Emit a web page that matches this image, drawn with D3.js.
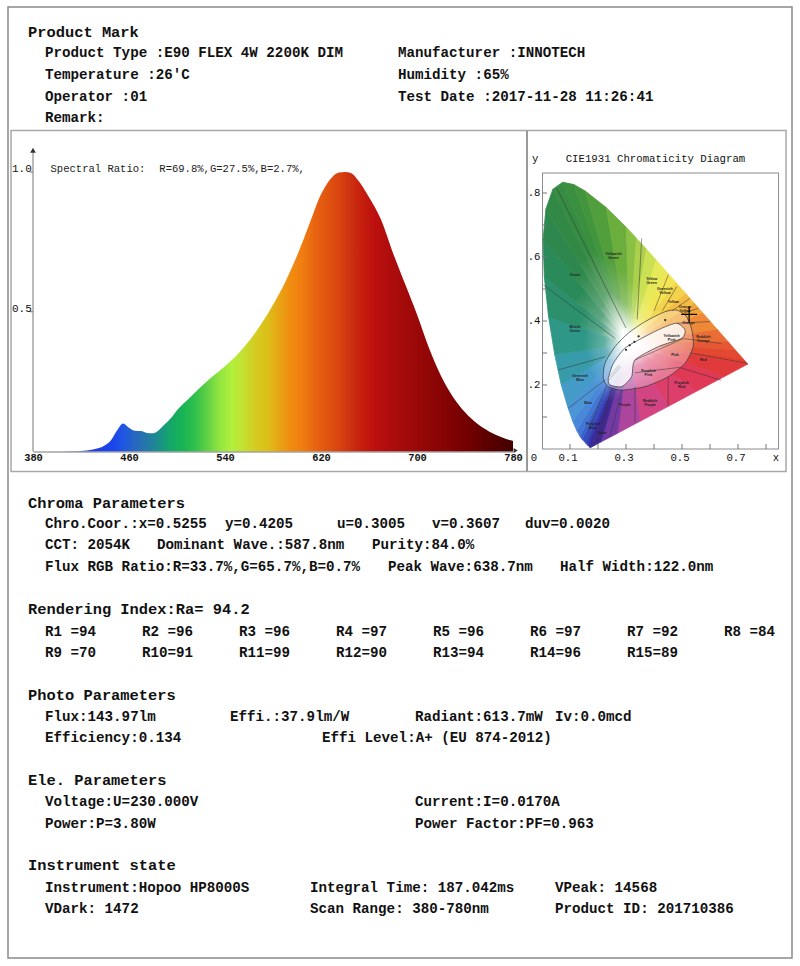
<!DOCTYPE html>
<html><head><meta charset="utf-8">
<script src="https://cdn.jsdelivr.net/npm/d3@7"></script>
<style>body{margin:0;background:#fff} svg{display:block}</style>
</head><body><svg id="c" width="800" height="966"></svg>
<script>
// ---------------- DATA ----------------
const wavelengths = [380,390,400,410,420,430,440,445,450,455,460,465,470,475,480,485,490,495,500,510,520,530,540,550,560,570,580,590,600,610,620,630,635,640,645,650,660,670,680,690,700,710,720,730,740,750,760,770,778,780];
const intensity   = [0,0,0,0.001,0.002,0.007,0.022,0.04,0.075,0.1,0.085,0.074,0.073,0.066,0.065,0.077,0.098,0.12,0.148,0.19,0.232,0.27,0.305,0.345,0.395,0.455,0.525,0.605,0.70,0.81,0.92,0.985,0.998,1.0,0.996,0.975,0.91,0.83,0.71,0.60,0.49,0.37,0.27,0.195,0.14,0.10,0.072,0.052,0.04,0.038];
const xTickValues = [380,460,540,620,700,780];
const yTickValues = [0.5,1.0];
const spectralRatio = "R=69.8%,G=27.5%,B=2.7%,";
const spectrumColorWl = [380,420,445,455,465,475,485,495,505,515,525,535,545,555,565,575,585,595,605,615,625,635,645,655,665,680,700,720,740,760,780];
const spectrumColorHex = ['#3a2aa0','#2238e0','#1a44ec','#1f55e4','#2868c0','#2478a8','#1a9088','#14a868','#18b454','#30c04c','#60d044','#90e440','#b0f03c','#c4e032','#d4cc22','#dcc018','#e8a414','#f08c10','#f07c10','#e86410','#e05410','#d84410','#cc3010','#c41c0e','#bc100e','#ac0c0c','#9a0808','#880404','#760000','#5a0000','#420000'];

// CIE 1931 spectral locus
const locusWl = [380,420,440,450,460,465,470,475,480,485,490,495,500,505,510,515,520,525,530,540,550,555,560,565,570,575,580,585,590,600,610,620,640,700];
const locusX = [0.1741,0.1714,0.1644,0.1566,0.1440,0.1355,0.1241,0.1096,0.0913,0.0687,0.0454,0.0235,0.0082,0.0039,0.0139,0.0389,0.0743,0.1142,0.1547,0.2296,0.3016,0.3373,0.3731,0.4087,0.4441,0.4788,0.5125,0.5448,0.5752,0.6270,0.6658,0.6915,0.7190,0.7347];
const locusY = [0.0050,0.0051,0.0109,0.0177,0.0297,0.0399,0.0578,0.0868,0.1327,0.2007,0.2950,0.4127,0.5384,0.6548,0.7502,0.8120,0.8338,0.8262,0.8059,0.7543,0.6923,0.6589,0.6245,0.5896,0.5547,0.5202,0.4866,0.4544,0.4242,0.3725,0.3340,0.3083,0.2809,0.2653];
const locusColor = ['#2a2080','#302698','#3430a8','#3642b6','#3a58c4','#3e6ccf','#4680d6','#4c90da','#4a9ad4','#3e9cbc','#329a98','#2c9476','#2a8c60','#2c8852','#308848','#348a44','#388e40','#3e923e','#46983c','#5ca43c','#7cb840','#98c848','#bcd850','#dce858','#f0ec58','#f4de50','#f4c848','#f4b040','#f09838','#ec7a38','#e86034','#e44e32','#e24430','#e03c2e'];
const purpleX = [0.65,0.55,0.45,0.35,0.27,0.21];
const purpleY = [0.226,0.1795,0.133,0.0867,0.0495,0.0217];
const purpleColor = ['#e0384a','#de3a60','#dc4274','#c84890','#9442a8','#5432a0'];
const whitePoint = [0.3127,0.329];
const cieXTicks = [0.1,0.3,0.5,0.7];
const cieYTicks = [0.2,0.4,0.6,0.8];
const measured = [0.5255,0.4205];
const kellyOuter = [[0.219,0.221],[0.225,0.268],[0.261,0.320],[0.308,0.362],[0.368,0.398],[0.439,0.429],[0.481,0.434],[0.515,0.415],[0.535,0.372],[0.540,0.320],[0.511,0.268],[0.451,0.226],[0.368,0.195],[0.285,0.184],[0.237,0.195]];
const kellyInner = [[0.237,0.221],[0.255,0.268],[0.296,0.315],[0.356,0.346],[0.427,0.377],[0.481,0.393],[0.511,0.372],[0.499,0.346],[0.416,0.320],[0.332,0.278],[0.320,0.226],[0.285,0.195],[0.243,0.200]];
const kellyLines = [
  [0.053,0.814,0.300,0.378],[0.005,0.5125,0.262,0.345],[0.356,0.658,0.340,0.405],[0.451,0.544,0.400,0.431],
  [0.481,0.507,0.430,0.432],[0.529,0.471,0.465,0.432],[0.558,0.440,0.505,0.424],[0.600,0.398,0.481,0.393],
  [0.505,0.345,0.640,0.330],[0.530,0.300,0.731,0.268],[0.490,0.255,0.640,0.215],[0.451,0.226,0.450,0.135],
  [0.332,0.195,0.332,0.082],[0.285,0.184,0.243,0.038],[0.249,0.190,0.195,0.018],[0.231,0.197,0.165,0.060],
  [0.225,0.216,0.094,0.127],[0.225,0.288,0.058,0.247],[0.332,0.278,0.505,0.345],[0.332,0.238,0.490,0.255]
];
const kellyLabels = [
  ["Green",0.118,0.544],["Yellowish|Green",0.255,0.601],["Yellow|Green",0.392,0.523],["Greenish|Yellow",0.439,0.492],
  ["Yellow",0.469,0.46],["Orange|Yellow",0.511,0.436],["Orange",0.523,0.393],["Bluish|Green",0.118,0.372],
  ["Yellowish|Pink",0.463,0.346],["Reddish|Orange",0.576,0.343],["Pink",0.475,0.294],["Red",0.576,0.278],
  ["Greenish|Blue",0.136,0.221],["Purplish|Pink",0.38,0.237],["Purplish|Red",0.499,0.2],["Blue",0.165,0.143],
  ["Purple",0.296,0.1375],["Reddish|Purple",0.386,0.143],["Purplish|Blue",0.183,0.07],["Violet",0.213,0.05]
];
const planckDots = [[0.300,0.310],[0.313,0.324],[0.330,0.335],[0.345,0.352],[0.440,0.403]];

// report text
const header = {product:"Product Type :E90 FLEX 4W 2200K DIM", manu:"Manufacturer :INNOTECH", temp:"Temperature :26'C", hum:"Humidity :65%", op:"Operator :01", date:"Test Date :2017-11-28 11:26:41", remark:"Remark:"};
const chromaTexts = [["Chro.Coor.:x=0.5255","y=0.4205","u=0.3005","v=0.3607","duv=0.0020"],["CCT: 2054K","Dominant Wave.:587.8nm","Purity:84.0%"],["Flux RGB Ratio:R=33.7%,G=65.7%,B=0.7%","Peak Wave:638.7nm","Half Width:122.0nm"]];
const raValue = "94.2";
const rValues = [94,96,96,97,96,97,92,84,70,91,99,90,94,96,89];
const photoTexts = [["Flux:143.97lm","Effi.:37.9lm/W","Radiant:613.7mW","Iv:0.0mcd"],["Efficiency:0.134","Effi Level:A+ (EU 874-2012)"]];
const eleTexts = [["Voltage:U=230.000V","Current:I=0.0170A"],["Power:P=3.80W","Power Factor:PF=0.963"]];
const instTexts = [["Instrument:Hopoo HP8000S","Integral Time: 187.042ms","VPeak: 14568"],["VDark: 1472","Scan Range: 380-780nm","Product ID: 201710386"]];

// ---------------- DRAW ----------------
const svg = d3.select('#c');
const FONT = '"Liberation Mono","Courier New",monospace';
function txt(g,x,y,s,o={}){
  return g.append('text').attr('x',x).attr('y',y).attr('dominant-baseline','central')
    .attr('font-family',FONT).attr('font-size',o.size||14.2).attr('font-weight',o.weight||'bold')
    .attr('fill',o.fill||'#111').attr('text-anchor',o.anchor||'start').style('white-space','pre').text(s);
}
const defs = svg.append('defs');

// frames
svg.append('rect').attr('x',8).attr('y',7).attr('width',784).attr('height',951).attr('fill','none').attr('stroke','#8a8a8a').attr('stroke-width',1.5);
svg.append('rect').attr('x',11).attr('y',130.5).attr('width',775).attr('height',341).attr('fill','none').attr('stroke','#a8a8a8').attr('stroke-width',1.5);
svg.append('line').attr('x1',527).attr('x2',527).attr('y1',131).attr('y2',471).attr('stroke','#555').attr('stroke-width',1.2);

// header
const hg = svg.append('g');
txt(hg,28,33,"Product Mark",{size:15.4});
txt(hg,45,53,header.product); txt(hg,398,53,header.manu);
txt(hg,45,75,header.temp); txt(hg,398,75,header.hum);
txt(hg,45,96.5,header.op); txt(hg,398,96.5,header.date);
txt(hg,45,117.5,header.remark);

// ---- spectrum ----
const x = d3.scaleLinear().domain([380,780]).range([33,513]);
const y = d3.scaleLinear().domain([0,1]).range([451.5,172]);
const sg = svg.append('g');
const grad = defs.append('linearGradient').attr('id','specGrad').attr('gradientUnits','userSpaceOnUse')
  .attr('x1',x(380)).attr('x2',x(780)).attr('y1',0).attr('y2',0);
spectrumColorWl.forEach((w,i)=>grad.append('stop').attr('offset',(x(w)-x(380))/(x(780)-x(380))).attr('stop-color',spectrumColorHex[i]));
const specData = wavelengths.map((w,i)=>({w,v:intensity[i]}));
sg.append('path').datum(specData)
  .attr('d',d3.area().x(d=>x(d.w)).y0(y(0)).y1(d=>y(d.v)).curve(d3.curveMonotoneX))
  .attr('fill','url(#specGrad)');
// axes
const xAxis = sg.append('g').attr('transform',`translate(0,${y(0)})`)
  .call(d3.axisBottom(x).tickValues(xTickValues).tickSize(0).tickSizeOuter(0).tickPadding(2));
xAxis.select('.domain').attr('stroke','#777').attr('stroke-width',1.2);
xAxis.selectAll('text').attr('font-family',FONT).attr('font-size',10.4).attr('font-weight','bold').attr('fill','#111');
sg.append('line').attr('x1',x(380)).attr('x2',x(380)).attr('y1',y(0)).attr('y2',y(1.07)).attr('stroke','#777').attr('stroke-width',1);
sg.append('path').attr('d',d3.symbol(d3.symbolTriangle,14)()).attr('transform',`translate(${x(380)},${y(1.075)})`).attr('fill','#333');
sg.append('path').attr('d',d3.symbol(d3.symbolTriangle,10)()).attr('transform',`translate(${x(780)+2},${y(0)-1}) rotate(90)`).attr('fill','#333');
yTickValues.forEach(v=>{
  sg.append('line').attr('x1',x(380)-3).attr('x2',x(380)).attr('y1',y(v)).attr('y2',y(v)).attr('stroke','#777');
  txt(sg,12,y(v)-3,d3.format('.1f')(v),{size:11,weight:'normal'});
});
txt(sg,50.5,169,"Spectral Ratio:",{size:10.55,weight:'normal',fill:'#222'});
txt(sg,159.3,169,spectralRatio,{size:10.55,weight:'normal',fill:'#222'});

// ---- CIE ----
const cx = d3.scaleLinear().domain([0,1]).range([542,822]);
const cy = d3.scaleLinear().domain([0,1]).range([449,129]);
const cg = svg.append('g');
txt(cg,532,158.5,"y",{size:10.7,weight:'normal'});
txt(cg,565.7,158.5,"CIE1931 Chromaticity Diagram",{size:10.7,weight:'normal'});
cg.append('rect').attr('x',cx(0)+0.5).attr('y',cy(0.8625)).attr('width',cx(0.843)-cx(0)).attr('height',cy(0)-cy(0.8625))
  .attr('fill','#fff').attr('stroke','#8c8c8c').attr('stroke-width',1);
// fan of gradient triangles
const ring = locusX.map((lx,i)=>({x:lx,y:locusY[i],c:locusColor[i]}))
  .concat(purpleX.map((px,i)=>({x:px,y:purpleY[i],c:purpleColor[i]})));
const wpx = cx(whitePoint[0]), wpy = cy(whitePoint[1]);
const fan = cg.append('g');
ring.forEach((p,i)=>{
  const q = ring[(i+1)%ring.length];
  const col = d3.interpolateRgb(p.c,q.c)(0.5);
  const mx = (cx(p.x)+cx(q.x))/2, my = (cy(p.y)+cy(q.y))/2;
  const gd = defs.append('linearGradient').attr('id','cg'+i).attr('gradientUnits','userSpaceOnUse')
    .attr('x1',wpx).attr('y1',wpy).attr('x2',mx).attr('y2',my);
  [[0,'#ffffff'],[0.08,'#ffffff'],[0.32,d3.interpolateRgb('#ffffff',col)(0.75)],[0.58,col],[1,col]]
    .forEach(s=>gd.append('stop').attr('offset',s[0]).attr('stop-color',s[1]));
  fan.append('path').attr('d',`M${wpx},${wpy}L${cx(p.x)},${cy(p.y)}L${cx(q.x)},${cy(q.y)}Z`)
    .attr('fill',`url(#cg${i})`).attr('stroke',`url(#cg${i})`).attr('stroke-width',0.8).attr('stroke-linejoin','round');
});
// Kelly regions
const kl = d3.line().x(d=>cx(d[0])).y(d=>cy(d[1])).curve(d3.curveCardinalClosed.tension(0.3));
cg.append('path').attr('d',kl(kellyOuter)).attr('fill','#fff').attr('fill-opacity',0.3).attr('stroke','#333').attr('stroke-width',0.7);
cg.append('path').attr('d',kl(kellyInner)).attr('fill','#fff').attr('fill-opacity',0.8).attr('stroke','#333').attr('stroke-width',0.7);
cg.selectAll('line.k').data(kellyLines).join('line').attr('class','k')
  .attr('x1',d=>cx(d[0])).attr('y1',d=>cy(d[1])).attr('x2',d=>cx(d[2])).attr('y2',d=>cy(d[3]))
  .attr('stroke','#333').attr('stroke-width',0.6).attr('stroke-opacity',0.85);
kellyLabels.forEach(([t,lx,ly])=>{
  const parts=t.split('|');
  const te=cg.append('text').attr('x',cx(lx)).attr('y',cy(ly)).attr('font-family','Liberation Sans, Arial, sans-serif')
    .attr('font-size',3.6).attr('font-weight','bold').attr('fill','#222').attr('text-anchor','middle');
  parts.forEach((p,j)=>te.append('tspan').attr('x',cx(lx)).attr('dy',j===0?(parts.length>1?-1.5:1.2):4).text(p));
});
cg.selectAll('circle.pl').data(planckDots).join('circle').attr('class','pl')
  .attr('cx',d=>cx(d[0])).attr('cy',d=>cy(d[1])).attr('r',1.1).attr('fill','#222');
cg.append('line').attr('x1',cx(0.23)).attr('y1',cy(0.215)).attr('x2',cx(0.275)).attr('y2',cy(0.262)).attr('stroke','#999').attr('stroke-width',0.6);
cg.append('line').attr('x1',cx(0.236)).attr('y1',cy(0.212)).attr('x2',cx(0.281)).attr('y2',cy(0.258)).attr('stroke','#999').attr('stroke-width',0.6);
// measured point cross
const mxp=cx(measured[0]), myp=cy(measured[1]);
cg.append('path').attr('d',`M${mxp-8},${myp}H${mxp+8}M${mxp},${myp-8}V${myp+8}`).attr('stroke','#000').attr('stroke-width',1.2);
// ticks
d3.range(1,9).forEach(i=>{
  const v=i/10;
  cg.append('line').attr('x1',cx(v)).attr('x2',cx(v)).attr('y1',cy(0)).attr('y2',cy(0)-5).attr('stroke','#777');
  cg.append('line').attr('x1',cx(0)).attr('x2',cx(0)+5).attr('y1',cy(v)).attr('y2',cy(v)).attr('stroke','#777');
});
cieXTicks.forEach(v=>txt(cg,cx(v)-2,457.5,d3.format('.1f')(v),{size:10.7,weight:'normal',anchor:'middle'}));
cieYTicks.forEach(v=>txt(cg,540.5,cy(v),d3.format('.1f')(v).replace(/^0/,''),{size:10.7,weight:'normal',anchor:'end'}));
txt(cg,534,457.5,"0",{size:10.7,weight:'normal',anchor:'middle'});
txt(cg,776,457.5,"x",{size:10.7,weight:'normal',anchor:'middle'});

// ---- parameter text ----
const pg = svg.append('g');
txt(pg,28,503.5,"Chroma Parameters",{size:15.4});
[[45,225,337,432,525],[45,157,372],[45,388,560]].forEach((cols,r)=>{
  cols.forEach((cxp,c)=>txt(pg,cxp,523.5+r*21.7,chromaTexts[r][c]));
});
txt(pg,28,610,"Rendering Index:Ra= "+raValue,{size:15.4});
rValues.forEach((v,i)=>{
  const n=i+1;
  const label = n<10 ? `R${n} =${v}` : `R${n}=${v}`;
  txt(pg,45+(i%8)*97,631.5+Math.floor(i/8)*21.3,label);
});
txt(pg,28,695.5,"Photo Parameters",{size:15.4});
[[45,230,415,555],[45,322]].forEach((cols,r)=>cols.forEach((cxp,c)=>txt(pg,cxp,717+r*21.3,photoTexts[r][c])));
txt(pg,28,781,"Ele. Parameters",{size:15.4});
[[45,415],[45,415]].forEach((cols,r)=>cols.forEach((cxp,c)=>txt(pg,cxp,802+r*21.7,eleTexts[r][c])));
txt(pg,28,866,"Instrument state",{size:15.4});
[[45,310,555],[45,310,555]].forEach((cols,r)=>cols.forEach((cxp,c)=>txt(pg,cxp,887.5+r*21.5,instTexts[r][c])));
</script></body></html>
